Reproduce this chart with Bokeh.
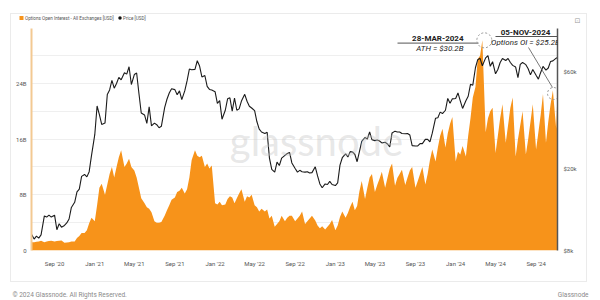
from datetime import datetime
from bokeh.plotting import figure
from bokeh.layouts import column
from bokeh.models import (ColumnDataSource, Range1d, LogScale, LogAxis, FixedTicker,
                          DatetimeTickFormatter, Label)
from bokeh.core.properties import value
from bokeh.embed import file_html
from bokeh.resources import INLINE

# ---------------- data ----------------
SAMPLE_DAYS = [1, 8, 15, 22]          # sampling days in each month

# Options open interest, billions USD (Jun-23 2020, then 4 per month)
oi_2020 = [1.2,
           1.2, 1.25, 1.3, 1.4,
           1.2, 1.3, 1.35, 1.4,
           1.3, 1.35, 1.4, 1.45,
           1.1, 1.15, 1.2, 1.3,
           1.3, 1.8, 2.1, 2.5,
           2.5, 2.9, 3.9, 4.7]
oi_2021 = [4.2, 6.5, 9.0, 9.6,
           8.0, 9.5, 11.0, 12.0,
           10.5, 12.0, 13.4, 14.4,
           12.0, 12.5, 13.2, 12.0,
           11.5, 10.5, 9.0, 7.5,
           6.8, 6.2, 6.0, 5.5,
           4.2, 4.0, 4.0, 4.1,
           5.0, 5.8, 6.5, 7.3,
           7.6, 8.4, 8.6, 9.0,
           8.2, 8.8, 10.5, 13.0,
           14.4, 13.6, 13.4, 13.6,
           12.0, 12.5, 11.8, 12.2]
oi_2022 = [6.8, 6.6, 7.0, 6.5,
           6.6, 7.4, 7.8, 7.6,
           6.8, 7.5, 8.2, 8.8,
           7.0, 7.8, 7.6, 8.0,
           6.5, 6.2, 5.6, 6.0,
           5.6, 5.9, 4.6, 5.0,
           3.4, 3.8, 4.2, 5.0,
           4.2, 4.7, 5.0, 5.0,
           4.2, 4.6, 5.0, 5.6,
           3.8, 4.2, 4.6, 5.0,
           4.3, 3.6, 3.2, 3.5,
           3.0, 3.4, 3.8, 4.4]
oi_2023 = [2.9, 3.6, 4.8, 5.6,
           4.7, 5.4, 6.3, 7.0,
           5.8, 6.4, 8.5, 10.0,
           7.4, 9.0, 10.5, 11.0,
           8.4, 9.4, 10.3, 11.3,
           9.0, 10.4, 11.8, 12.5,
           9.3, 10.4, 11.0, 11.6,
           9.4, 10.5, 11.5, 12.0,
           9.0, 10.0, 11.0, 12.0,
           9.5, 11.0, 13.0, 14.5,
           12.8, 14.8, 16.5, 17.5,
           14.8, 16.8, 18.2, 19.2]
oi_2024 = [12.8, 14.2, 13.8, 15.0,
           13.5, 16.5, 19.0, 22.0,
           23.5, 27.5, 28.0, 30.2,
           17.0, 19.0, 20.0, 20.5,
           14.0, 16.5, 19.0, 21.0,
           15.5, 18.0, 20.5, 22.0,
           13.5, 16.0, 18.0, 20.0,
           13.8, 16.0, 18.5, 21.0,
           14.5, 17.0, 19.5, 22.5,
           15.5, 18.5, 21.0, 23.0,
           17.5, 22.8]

# BTC price, USD (same dates)
price_2020 = [9600,
              9100, 9400, 9200, 9530,
              11800, 11650, 11900, 11650,
              11900, 10100, 10800, 10400,
              10600, 10900, 11400, 12980,
              13750, 15480, 15960, 18400,
              18800, 18300, 19400, 23250]
price_2021 = [29400, 40600, 36800, 33000,
              33500, 46200, 48600, 54100,
              49600, 52300, 56000, 54500,
              59000, 58100, 63100, 51700,
              57800, 58800, 46700, 37500,
              36700, 33400, 40200, 32500,
              33500, 32900, 31800, 32300,
              39900, 43800, 47000, 49300,
              48800, 46100, 48100, 43600,
              48100, 53800, 61500, 61000,
              61300, 67500, 63600, 56300,
              57200, 50600, 48900, 48600]
price_2022 = [47700, 41800, 43100, 35000,
              38700, 44000, 44500, 38300,
              44400, 38700, 39300, 42900,
              46300, 42800, 40500, 39700,
              38500, 34000, 31300, 30300,
              29800, 30200, 22600, 19900,
              19300, 21600, 20800, 22600,
              23300, 23800, 24100, 21400,
              20100, 19300, 19700, 19400,
              19300, 19400, 19100, 19200,
              20500, 18500, 16900, 16200,
              16900, 16800, 17400, 16800]
price_2023 = [16600, 17100, 20900, 22700,
              23700, 22900, 24300, 24200,
              23600, 21700, 24300, 27300,
              28500, 28000, 30300, 27800,
              27500, 27700, 27400, 26800,
              27000, 26500, 25600, 30000,
              30600, 30300, 30300, 29800,
              29700, 29800, 29300, 26000,
              25900, 25900, 26600, 26600,
              27900, 27900, 27100, 29900,
              35400, 35600, 37900, 37300,
              38700, 44200, 41900, 44000]
price_2024 = [44200, 47000, 43000, 39500,
              43100, 45300, 51800, 51300,
              62400, 68300, 69400, 63800,
              69700, 71600, 63400, 66800,
              58300, 61200, 66200, 69300,
              67700, 69300, 66200, 64100,
              62900, 55800, 64800, 66200,
              64600, 61700, 57600, 61200,
              57300, 54900, 59200, 63300,
              60800, 62200, 67000, 67400,
              69500, 70000]

oi_ticks = [0, 8, 16, 24]
oi_tick_labels = ["0", "8B", "16B", "24B"]
oi_grid = [4, 8, 12, 16, 20, 24, 28]
price_ticks = [8000, 20000, 60000]
price_tick_labels = ["$8k", "$20k", "$60k"]
x_tick_months = ["2020-09", "2021-01", "2021-05", "2021-09", "2022-01", "2022-05",
                 "2022-09", "2023-01", "2023-05", "2023-09", "2024-01", "2024-05", "2024-09"]

ath_date, ath_value = datetime(2024, 3, 28), 30.2

# ---------------- build table ----------------
def month_dates(year, months):
    return [datetime(year, m, d) for m in months for d in SAMPLE_DAYS]

dates = ([datetime(2020, 6, 23)]
         + month_dates(2020, range(7, 13)) + month_dates(2021, range(1, 13))
         + month_dates(2022, range(1, 13)) + month_dates(2023, range(1, 13))
         + month_dates(2024, range(1, 11))
         + [datetime(2024, 11, 1), datetime(2024, 11, 5)])
oi = oi_2020 + oi_2021 + oi_2022 + oi_2023 + oi_2024
price = price_2020 + price_2021 + price_2022 + price_2023 + price_2024
assert len(dates) == len(oi) == len(price)
src = ColumnDataSource(dict(date=dates, oi=oi, price=price))

X0, X1 = dates[0], dates[-1]
OI_MAX = 31.9
# window geometry
CARD_L, CARD_R, CARD_T, CARD_B = 10, 587, 13, 282
IN_L, IN_R = CARD_L + 1, CARD_R - 1          # card content box
FL, FR, FT, FB = 31, 557, 28, 250            # plot frame edges (window px)

def sx(px):   # window px -> frame screen x
    return px - FL

def sy(py):   # window px -> frame screen y (from bottom)
    return FB - py

def no_align(fig):
    try:
        fig.frame_align = False
    except (AttributeError, ValueError):
        pass

FONT = "Roboto"
ORANGE = "#F7931A"

# ---------------- header (legend) ----------------
head = figure(width=IN_R - IN_L, height=FT - (CARD_T + 1), x_range=Range1d(IN_L, IN_R),
              y_range=Range1d(FT, CARD_T + 1), min_border=0, x_axis_location=None,
              y_axis_location=None, toolbar_location=None, output_backend="svg",
              outline_line_color=None, background_fill_color="white",
              border_fill_color="white")
no_align(head)
head.xgrid.visible = False
head.ygrid.visible = False
head.scatter(x=[21], y=[17.6], marker="square", size=4, fill_color=ORANGE, line_color=None)
head.scatter(x=[119.5], y=[17.6], marker="circle", size=3.5, fill_color="#111111", line_color=None)
head.text(x=[24.5, 122.5], y=[17.6, 17.6],
          text=["Options Open Interest - All Exchanges [USD]", "Price [USD]"],
          text_font=value(FONT), text_font_size="4.6px", text_color="#555555",
          text_baseline="middle")
head.text(x=[577], y=[20], text=["⊡"], text_font=value("DejaVu Sans"), text_font_size="7px",
          text_color="#999999", text_align="center", text_baseline="middle")

# ---------------- main chart ----------------
p = figure(width=IN_R - IN_L, height=(CARD_B - 1) - FT, x_axis_type="datetime",
           output_backend="svg", toolbar_location=None, x_range=Range1d(X0, X1),
           y_range=Range1d(0, OI_MAX),
           min_border_left=FL - IN_L, min_border_right=IN_R - FR, min_border_top=0,
           min_border_bottom=(CARD_B - 1) - FB, outline_line_color=None,
           background_fill_color="white", border_fill_color="white")
no_align(p)

p.extra_y_ranges = {"price": Range1d(8000, 97000)}
p.extra_y_scales = {"price": LogScale()}

p.varea(x="date", y1=0, y2="oi", source=src, fill_color=ORANGE)
p.line(x="date", y="price", source=src, y_range_name="price", line_color="#1b1b1b",
       line_width=1.1)

ya = p.yaxis[0]
ya.ticker = FixedTicker(ticks=oi_ticks)
ya.major_label_overrides = dict(zip(oi_ticks, oi_tick_labels))
ya.axis_line_color = "#f3c992"
ya.axis_line_width = 2
p.ygrid.ticker = FixedTicker(ticks=oi_grid)
p.ygrid.grid_line_color = "#efefef"
p.xgrid.grid_line_color = None

ra = LogAxis(y_range_name="price", ticker=FixedTicker(ticks=price_ticks),
             major_label_overrides=dict(zip(price_ticks, price_tick_labels)))
p.add_layout(ra, "right")
ra.axis_line_color = "#555555"
ra.axis_line_width = 1.5

xa = p.xaxis[0]
tick_ms = [(datetime.strptime(m, "%Y-%m") - datetime(1970, 1, 1)).total_seconds() * 1000
           for m in x_tick_months]
xa.ticker = FixedTicker(ticks=tick_ms)
xa.formatter = DatetimeTickFormatter(days="%b '%y", months="%b '%y", years="%b '%y")
xa.axis_line_color = None
xa.major_label_standoff = 9

for ax in (ya, ra, xa):
    ax.major_tick_line_color = None
    ax.minor_tick_line_color = None
    ax.major_tick_out = 0
    ax.major_tick_in = 0
    ax.minor_tick_out = 0
    ax.major_label_text_font_size = "6px"
    ax.major_label_text_color = "#555555"
    ax.major_label_text_font = FONT
ya.major_label_standoff = 5
ra.major_label_standoff = 6

# watermark
p.add_layout(Label(x=sx(316), y=sy(140), x_units="screen", y_units="screen", text="glassnode",
                   text_font="Lato", text_font_size="40px", text_color="#c4c4c4",
                   text_alpha=0.4, text_align="center", text_baseline="middle"))

# annotation leader lines / markers
def to_date(px):
    return X0 + (X1 - X0) * ((px - FL) / (FR - FL))

def to_oi(py):
    return OI_MAX * (FB - py) / (FB - FT)

def seg(x0, y0, x1, y1, w=1.0):
    p.segment(x0=[to_date(x0)], y0=[to_oi(y0)], x1=[to_date(x1)], y1=[to_oi(y1)],
              line_color="#555555", line_width=w)

seg(397, 42.6, 478, 42.6)
seg(495, 36, 557, 36)
seg(528, 47, 552, 87, 0.8)
p.scatter(x=[ath_date], y=[ath_value], marker="circle", size=15, fill_color=None,
          line_color="#999999", line_dash="2 2", line_width=1)
p.scatter(x=[to_date(553)], y=[to_oi(93)], marker="circle", size=12, fill_color=None,
          line_color="#999999", line_dash="2 2", line_width=1)

for txt, x, y, style, align in [("28-MAR-2024", 463, 38, "bold", "right"),
                                ("ATH = $30.2B", 463, 48, "italic", "right"),
                                ("05-NOV-2024", 525, 32, "bold", "center"),
                                ("Options OI = $25.2B", 525, 41.5, "italic", "center")]:
    p.add_layout(Label(x=sx(x), y=sy(y), x_units="screen", y_units="screen", text=txt,
                       text_font=FONT, text_font_size="8px", text_font_style=style,
                       text_color="#222222", text_align=align, text_baseline="middle"))

card = column(head, p, margin=(CARD_T, 600 - CARD_R, 0, CARD_L), spacing=0,
              styles={"border": "1px solid #ebebeb"})

# ---------------- footer ----------------
foot = figure(width=600, height=300 - CARD_B, x_range=Range1d(0, 600),
              y_range=Range1d(300, CARD_B), min_border=0, x_axis_location=None,
              y_axis_location=None, toolbar_location=None, output_backend="svg",
              outline_line_color=None, background_fill_color="white",
              border_fill_color="white")
no_align(foot)
foot.xgrid.visible = False
foot.ygrid.visible = False
foot.text(x=[12], y=[294], text=["© 2024 Glassnode. All Rights Reserved."],
          text_font=value(FONT), text_font_size="6.5px", text_color="#8a8a8a",
          text_baseline="middle")
foot.text(x=[588], y=[294], text=["Glassnode"], text_font=value(FONT),
          text_font_size="6.5px", text_color="#8a8a8a", text_align="right",
          text_baseline="middle")

root = column(card, foot, spacing=0)
open("out.html", "w").write(file_html(root, INLINE))
